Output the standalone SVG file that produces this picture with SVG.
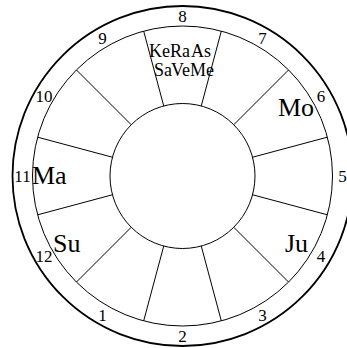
<svg xmlns="http://www.w3.org/2000/svg" width="347" height="348" viewBox="0 0 347 348">
<style>
.c{fill:none;stroke:#000;stroke-width:1}
.o{fill:none;stroke:#000;stroke-width:1.8}
.n{font-family:"Liberation Serif",serif;font-size:17px;fill:#000;text-anchor:middle}
.p{font-family:"Liberation Serif",serif;font-size:26px;fill:#000}
.s{font-family:"Liberation Serif",serif;font-size:18px;fill:#000}
</style>
<rect width="347" height="348" fill="#fff"/>
<g id="chart">
<circle class="o" cx="182.5" cy="176" r="170"/>
<circle class="c" cx="182.5" cy="176" r="150"/>
<circle class="c" cx="182.5" cy="176" r="72.5"/>
</g>
<g id="connectors" stroke="#000" stroke-width="1">
<line x1="252.53" y1="157.24" x2="327.39" y2="137.18"/>
<line x1="233.76" y1="124.74" x2="288.57" y2="69.93"/>
<line x1="201.26" y1="105.97" x2="221.32" y2="31.11"/>
<line x1="163.74" y1="105.97" x2="143.68" y2="31.11"/>
<line x1="131.24" y1="124.74" x2="76.43" y2="69.93"/>
<line x1="112.47" y1="157.24" x2="37.61" y2="137.18"/>
<line x1="112.47" y1="194.76" x2="37.61" y2="214.82"/>
<line x1="131.24" y1="227.26" x2="76.43" y2="282.07"/>
<line x1="163.74" y1="246.03" x2="143.68" y2="320.89"/>
<line x1="201.26" y1="246.03" x2="221.32" y2="320.89"/>
<line x1="233.76" y1="227.26" x2="288.57" y2="282.07"/>
<line x1="252.53" y1="194.76" x2="327.39" y2="214.82"/>
</g>
<g id="house8"><text class="n" x="182.5" y="22">8</text>
<text class="s" x="149" y="57">Ke</text><text class="s" x="170" y="57">Ra</text><text class="s" x="191" y="57">As</text>
<text class="s" x="154" y="76">Sa</text><text class="s" x="171" y="76">Ve</text><text class="s" x="190" y="76">Me</text></g>
<g id="house7"><text class="n" x="262.5" y="43.5">7</text></g>
<g id="house6"><text class="n" x="321" y="102">6</text><text class="p" x="278" y="116">Mo</text></g>
<g id="house5"><text class="n" x="342.5" y="182">5</text></g>
<g id="house4"><text class="n" x="321" y="262">4</text><text class="p" x="285" y="252">Ju</text></g>
<g id="house3"><text class="n" x="262.5" y="320.5">3</text></g>
<g id="house2"><text class="n" x="182.5" y="342">2</text></g>
<g id="house1"><text class="n" x="102.5" y="320.5">1</text></g>
<g id="house12"><text class="n" x="44" y="262">12</text><text class="p" x="53" y="252">Su</text></g>
<g id="house11"><text class="n" x="22.5" y="182">11</text><text class="p" x="32" y="184">Ma</text></g>
<g id="house10"><text class="n" x="44" y="102">10</text></g>
<g id="house9"><text class="n" x="102.5" y="43.5">9</text></g>
</svg>
